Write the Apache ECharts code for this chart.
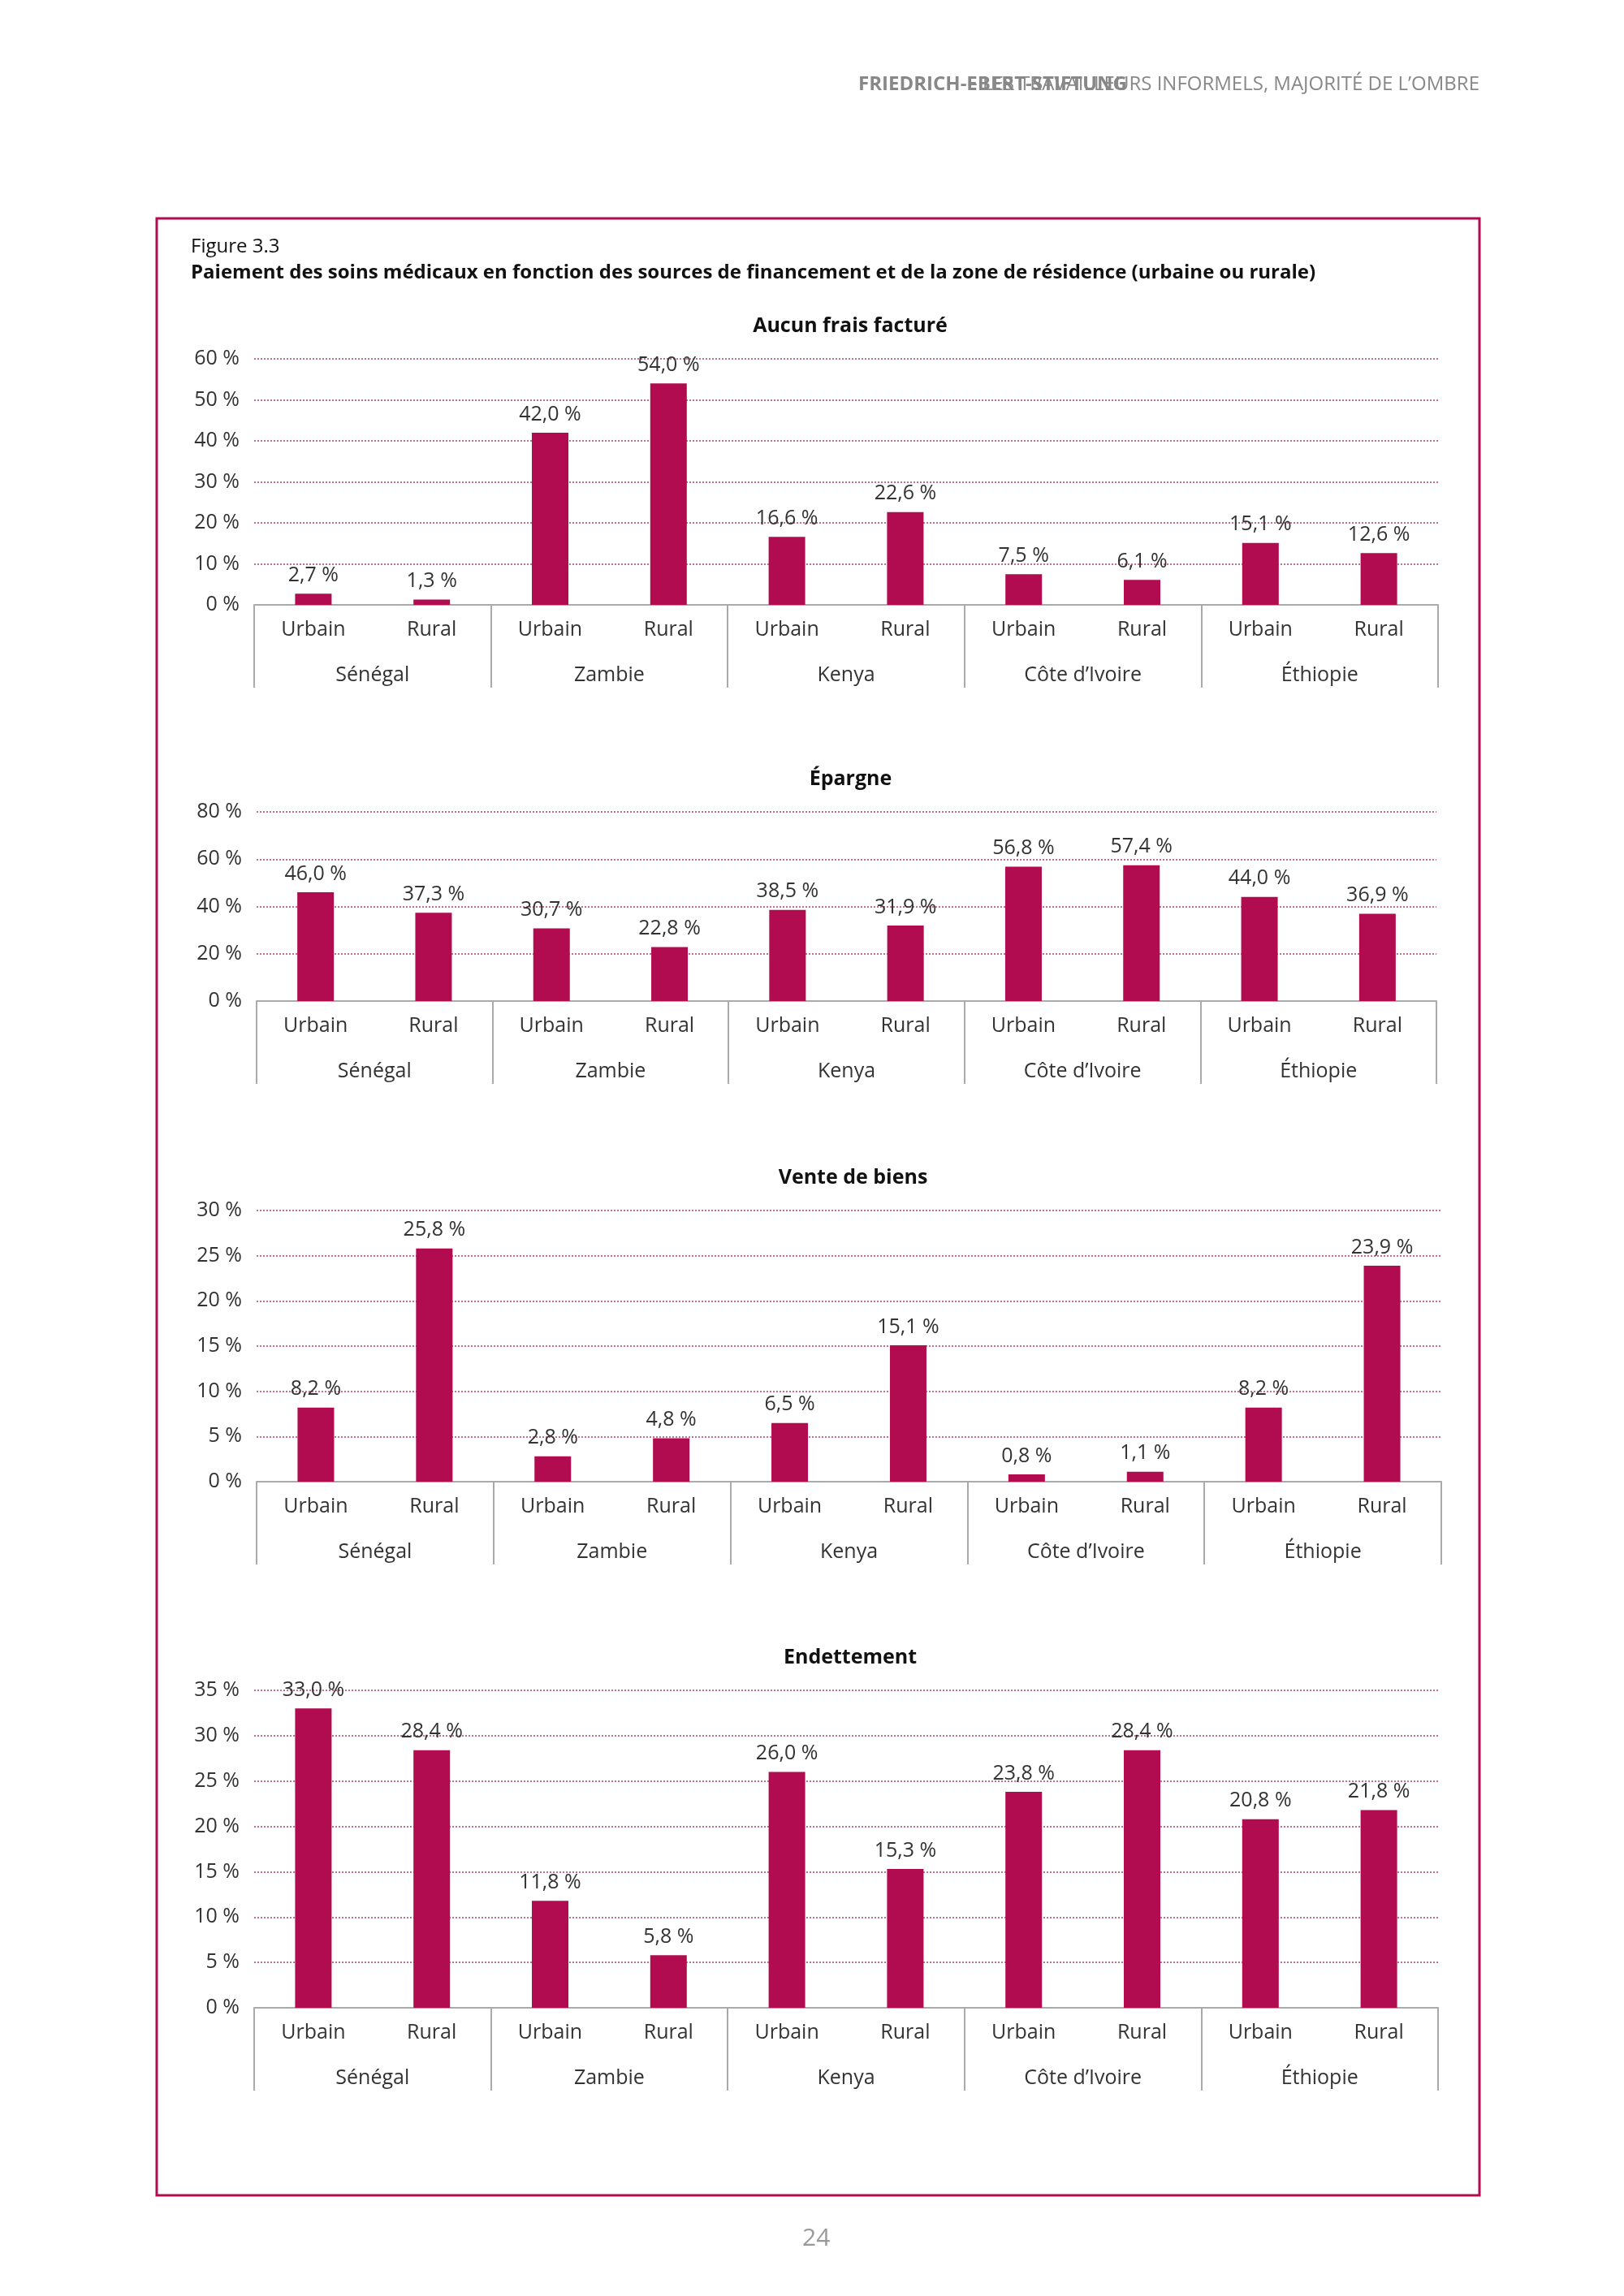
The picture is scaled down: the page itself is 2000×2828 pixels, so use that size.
<!DOCTYPE html>
<html lang="fr">
<head>
<meta charset="UTF-8">
<title>Figure 3.3</title>
<script src="https://cdn.jsdelivr.net/npm/echarts@6/dist/echarts.min.js"></script>
<style>
  html, body { margin: 0; padding: 0; background: #fff; }
  #main { width: 2000px; height: 2828px; }
</style>
</head>
<body>
<div id="main"></div>
<script>
var countries = ['Sénégal', 'Zambie', 'Kenya', 'Côte d\u2019Ivoire', 'Éthiopie'];
var zones = ['Urbain', 'Rural', 'Urbain', 'Rural', 'Urbain', 'Rural', 'Urbain', 'Rural', 'Urbain', 'Rural'];

var aucunFrais = [2.7, 1.3, 42.0, 54.0, 16.6, 22.6, 7.5, 6.1, 15.1, 12.6];
var epargne = [46.0, 37.3, 30.7, 22.8, 38.5, 31.9, 56.8, 57.4, 44.0, 36.9];
var venteBiens = [8.2, 25.8, 2.8, 4.8, 6.5, 15.1, 0.8, 1.1, 8.2, 23.9];
var endettement = [33.0, 28.4, 11.8, 5.8, 26.0, 15.3, 23.8, 28.4, 20.8, 21.8];

var panels = [
  {title: 'Aucun frais facturé', data: aucunFrais, max: 60, step: 10, top: 442, bottom: 745, left: 313, right: 1771},
  {title: 'Épargne', data: epargne, max: 80, step: 20, top: 1000, bottom: 1233, left: 316, right: 1769},
  {title: 'Vente de biens', data: venteBiens, max: 30, step: 5, top: 1491, bottom: 1825, left: 316, right: 1775},
  {title: 'Endettement', data: endettement, max: 35, step: 5, top: 2082, bottom: 2473, left: 313, right: 1771}
];

var font = '"Open Sans", "Noto Sans", sans-serif';
var barColor = '#b00c4f';
var fmt = function (v) { return v.toFixed(1).replace('.', ',') + ' %'; };

var grids = [], xAxes = [], yAxes = [], series = [], titles = [];
panels.forEach(function (p, i) {
  grids.push({left: p.left, width: p.right - p.left, top: p.top, height: p.bottom - p.top});
  titles.push({
    text: p.title, left: (p.left + p.right) / 2, top: p.top - 58, textAlign: 'center',
    textStyle: {fontFamily: font, fontSize: 25, fontWeight: 'bold', color: '#111'}
  });
  xAxes.push({
    type: 'category', gridIndex: i, data: zones, boundaryGap: true,
    axisLine: {lineStyle: {color: '#aaa', width: 2}},
    axisTick: {show: true, length: 102, interval: function (idx) { return idx % 2 === 0; }, lineStyle: {color: '#aaa', width: 2}},
    axisLabel: {margin: 18, fontFamily: font, fontSize: 25, color: '#333', interval: 0}
  });
  xAxes.push({
    type: 'category', gridIndex: i, data: countries, position: 'bottom',
    axisLine: {show: false}, axisTick: {show: false},
    axisLabel: {margin: 74, fontFamily: font, fontSize: 25, color: '#333', interval: 0}
  });
  yAxes.push({
    type: 'value', gridIndex: i, min: 0, max: p.max, interval: p.step,
    axisLine: {show: false}, axisTick: {show: false},
    axisLabel: {margin: 18, fontFamily: font, fontSize: 25, color: '#333', formatter: '{value} %'},
    splitLine: {lineStyle: {type: 'dotted', color: '#c07090', width: 2}}
  });
  series.push({
    type: 'bar', xAxisIndex: i * 2, yAxisIndex: i, data: p.data, barWidth: 45,
    itemStyle: {color: barColor},
    label: {show: true, position: 'top', distance: 10, fontFamily: font, fontSize: 25, color: '#333',
      formatter: function (d) { return fmt(d.value); }}
  });
});

var chart = echarts.init(document.getElementById('main'));
chart.setOption({
  animation: false,
  title: titles,
  grid: grids,
  xAxis: xAxes,
  yAxis: yAxes,
  series: series,
  graphic: [
    {type: 'rect', shape: {x: 193, y: 269, width: 1629, height: 2435}, style: {fill: 'none', stroke: '#b00c4f', lineWidth: 3}},
    {type: 'text', right: 178, top: 92, style: {text: 'FRIEDRICH-EBERT-STIFTUNG', fontFamily: font, fontSize: 24, fontWeight: 'bold', fill: '#888'}, right: 612},
    {type: 'text', right: 178, top: 92, style: {text: ' \u2013 LES TRAVAILLEURS INFORMELS, MAJORITÉ DE L\u2019OMBRE', fontFamily: font, fontSize: 24, fill: '#888'}},
    {type: 'text', left: 235, top: 292, style: {text: 'Figure 3.3', fontFamily: font, fontSize: 24, fill: '#111'}},
    {type: 'text', left: 235, top: 324, style: {text: 'Paiement des soins médicaux en fonction des sources de financement et de la zone de résidence (urbaine ou rurale)', fontFamily: font, fontSize: 24, fontWeight: 'bold', fill: '#111'}},
    {type: 'text', left: 988, top: 2742, style: {text: '24', fontFamily: font, fontSize: 30, fill: '#999'}}
  ]
});
</script>
</body>
</html>
